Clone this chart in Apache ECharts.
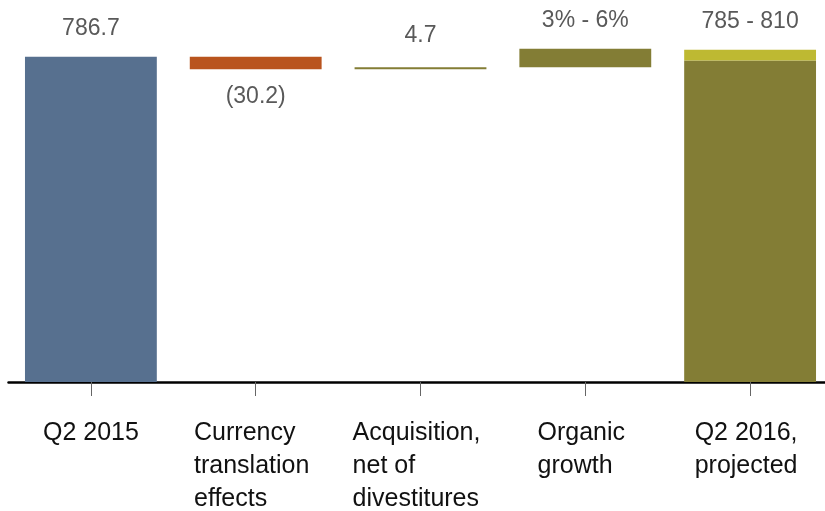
<!DOCTYPE html>
<html>
<head>
<meta charset="utf-8">
<script src="https://cdn.jsdelivr.net/npm/echarts@6/dist/echarts.min.js"></script>
<style>
* { margin: 0; padding: 0; }
html, body { background: #fff; }
#main { width: 825px; height: 511px; }
</style>
</head>
<body>
<div id="main"></div>
<script>
// categories and values
const categories = ['Q2 2015', 'Currency\ntranslation\neffects', 'Acquisition,\nnet of\ndivestitures', 'Organic\ngrowth', 'Q2 2016,\nprojected'];
const q2_2015 = 786.7;
const currency = -30.2;
const acquisition = 4.7;
const organicTop = 806;      // top of organic growth bar as drawn
const projectedLow = 778;    // dark part of projected bar
const projectedHigh = 804;   // top of light part
const valueLabels = ['786.7', '(30.2)', '4.7', '3% - 6%', '785 - 810'];
const barColors = ['#57708f', '#b9541e', '#837d35', '#837d35', '#837d35'];
const rangeColor = '#beb932';

// waterfall pieces
const afterCurrency = q2_2015 + currency;
const afterAcq = afterCurrency + acquisition;
const baseData = [0, afterCurrency, afterCurrency, afterAcq, 0];
const mainData = [q2_2015, -currency, acquisition, organicTop - afterAcq, projectedLow];
const rangeData = ['-', '-', '-', '-', projectedHigh - projectedLow];

const font = 'Liberation Sans, Arial, sans-serif';
const labelStyle = { show: true, fontFamily: font, fontSize: 23, color: '#595959' };

const chart = echarts.init(document.getElementById('main'));
chart.setOption({
  animation: false,
  grid: { left: 8.5, width: 824, top: 10, bottom: 129, containLabel: false, outerBoundsMode: 'none' },
  xAxis: {
    type: 'category',
    data: categories,
    offset: 1,
    axisLine: { lineStyle: { color: '#000', width: 2.5 } },
    axisTick: { show: true, alignWithLabel: true, length: 14, lineStyle: { color: '#666', width: 1 } },
    axisLabel: {
      margin: 34,
      interval: 0,
      formatter: (v, i) => (i === 0 ? '{a|' : '{b|') + v + '}',
      rich: {
        a: { align: 'left', fontFamily: font, fontSize: 25, lineHeight: 33, color: '#111' },
        b: { align: 'left', fontFamily: font, fontSize: 25, lineHeight: 33, color: '#111', padding: [0, 8, 0, 0] }
      }
    }
  },
  yAxis: { type: 'value', min: 0, max: 900, show: false, splitLine: { show: false } },
  series: [
    {
      type: 'bar', stack: 'w', barWidth: '80%',
      itemStyle: { color: 'transparent' },
      data: baseData
    },
    {
      type: 'bar', stack: 'w', barWidth: '80%',
      data: mainData.map((v, i) => ({
        value: v,
        itemStyle: { color: barColors[i] },
        label: i === 4 ? { show: false } : Object.assign({}, labelStyle, {
          position: i === 1 ? 'bottom' : 'top',
          distance: i === 2 ? 20 : (i === 1 ? 16 : 17),
          formatter: valueLabels[i]
        })
      }))
    },
    {
      type: 'bar', stack: 'w', barWidth: '80%',
      itemStyle: { color: rangeColor },
      label: Object.assign({}, labelStyle, { position: 'top', distance: 17, formatter: valueLabels[4] }),
      data: rangeData
    }
  ]
});
</script>
</body>
</html>
